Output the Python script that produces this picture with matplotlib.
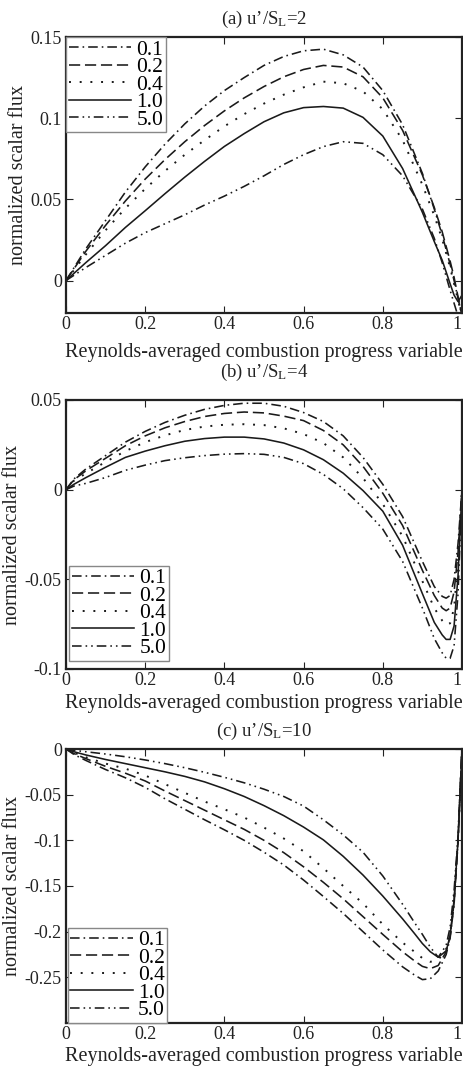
import matplotlib
matplotlib.use("Agg")
import matplotlib.pyplot as plt

plt.rcParams['font.family'] = ['Liberation Serif', 'DejaVu Serif']
plt.rcParams['mathtext.fontset'] = 'custom'
plt.rcParams['mathtext.rm'] = 'Liberation Serif'
plt.rcParams['mathtext.it'] = 'Liberation Serif:italic'

series_labels = ["0.1", "0.2", "0.4", "1.0", "5.0"]

# Panel (a) u'/SL = 2
xa = [0, 0.05, 0.1, 0.15, 0.2, 0.25, 0.3, 0.35, 0.4, 0.45, 0.5, 0.55, 0.6, 0.65,
      0.7, 0.75, 0.8, 0.85, 0.9, 0.93, 0.95, 0.97, 0.98, 0.99, 1.0]
a_01 = [0, 0.0195, 0.037, 0.0545, 0.07, 0.084, 0.0965, 0.1075, 0.117, 0.125, 0.1325,
        0.138, 0.1415, 0.1425, 0.139, 0.1315, 0.117, 0.096, 0.066, 0.044, 0.028,
        0.010, 0.0, -0.011, -0.022]
a_02 = [0, 0.018, 0.034, 0.049, 0.0625, 0.0745, 0.0855, 0.0955, 0.1045, 0.1125, 0.1195,
        0.1255, 0.130, 0.1325, 0.1315, 0.1255, 0.1125, 0.0925, 0.065, 0.045, 0.030,
        0.012, 0.002, -0.010, -0.022]
a_04 = [0, 0.016, 0.031, 0.0445, 0.0565, 0.0675, 0.0775, 0.0865, 0.095, 0.1025, 0.109,
        0.1145, 0.119, 0.1225, 0.1215, 0.1165, 0.1055, 0.0865, 0.059, 0.040, 0.0255,
        0.008, -0.002, -0.012, -0.022]
a_10 = [0, 0.011, 0.0215, 0.0327, 0.043, 0.0535, 0.0637, 0.0734, 0.0826, 0.0905, 0.0978,
        0.1033, 0.1065, 0.1072, 0.1062, 0.1005, 0.089, 0.069, 0.042, 0.024, 0.0125,
        -0.002, -0.009, -0.013, -0.009]
a_50 = [0, 0.008, 0.0155, 0.023, 0.0295, 0.035, 0.0405, 0.0465, 0.052, 0.058, 0.0645,
        0.0715, 0.0775, 0.0825, 0.0855, 0.0845, 0.0775, 0.0645, 0.044, 0.026, 0.011,
        -0.006, -0.014, -0.022, -0.030]

# Panel (b) u'/SL = 4
xb = [0, 0.02, 0.05, 0.1, 0.15, 0.2, 0.25, 0.3, 0.35, 0.4, 0.45, 0.5, 0.55, 0.6, 0.65,
      0.7, 0.75, 0.8, 0.85, 0.9, 0.93, 0.95, 0.96, 0.97, 0.98, 0.99, 1.0]
b_01 = [0, 0.006, 0.0115, 0.019, 0.0265, 0.0325, 0.0375, 0.0415, 0.0448, 0.047, 0.0482,
        0.0482, 0.0465, 0.043, 0.038, 0.030, 0.018, 0.003, -0.015, -0.040, -0.054,
        -0.0595, -0.0605, -0.059, -0.050, -0.030, 0.0]
b_02 = [0, 0.0055, 0.0105, 0.0175, 0.0245, 0.030, 0.0345, 0.038, 0.0408, 0.0425, 0.0433,
        0.0428, 0.041, 0.0385, 0.033, 0.025, 0.013, -0.002, -0.020, -0.045, -0.059,
        -0.066, -0.0675, -0.066, -0.057, -0.035, 0.0]
b_04 = [0, 0.005, 0.009, 0.0155, 0.0215, 0.0265, 0.0303, 0.0333, 0.0352, 0.0362, 0.0365,
        0.036, 0.0342, 0.031, 0.026, 0.018, 0.0065, -0.008, -0.026, -0.051, -0.066,
        -0.073, -0.0755, -0.0745, -0.066, -0.040, 0.0]
b_10 = [0, 0.003, 0.0067, 0.0125, 0.018, 0.0215, 0.0245, 0.027, 0.0285, 0.0293, 0.0293,
        0.0283, 0.026, 0.0222, 0.0167, 0.0092, -0.0005, -0.012, -0.031, -0.058, -0.074,
        -0.081, -0.0835, -0.0835, -0.076, -0.048, 0.0]
b_50 = [0, 0.002, 0.0035, 0.0068, 0.0108, 0.0137, 0.0162, 0.0178, 0.019, 0.0198, 0.0201,
        0.0197, 0.018, 0.0145, 0.0085, 0.0005, -0.010, -0.022, -0.040, -0.066, -0.083,
        -0.091, -0.094, -0.094, -0.087, -0.058, 0.0]

# Panel (c) u'/SL = 10
xc = [0, 0.02, 0.05, 0.1, 0.15, 0.2, 0.25, 0.3, 0.35, 0.4, 0.45, 0.5, 0.55, 0.6, 0.65,
      0.7, 0.75, 0.8, 0.85, 0.88, 0.9, 0.92, 0.94, 0.96, 0.97, 0.98, 0.99, 1.0]
c_01 = [0, -0.006, -0.0125, -0.0225, -0.0315, -0.042, -0.0545, -0.066, -0.0775, -0.0885,
        -0.100, -0.113, -0.127, -0.1435, -0.1615, -0.180, -0.200, -0.220, -0.2385,
        -0.2475, -0.2525, -0.2515, -0.243, -0.225, -0.207, -0.170, -0.100, 0.0]
c_02 = [0, -0.005, -0.0105, -0.019, -0.0265, -0.035, -0.046, -0.0565, -0.067, -0.0775,
        -0.088, -0.100, -0.1135, -0.129, -0.146, -0.164, -0.1835, -0.203, -0.222,
        -0.232, -0.238, -0.2405, -0.237, -0.222, -0.205, -0.168, -0.100, 0.0]
c_04 = [0, -0.004, -0.009, -0.016, -0.0215, -0.029, -0.0385, -0.048, -0.0575, -0.066,
        -0.075, -0.086, -0.098, -0.112, -0.1305, -0.150, -0.169, -0.192, -0.212,
        -0.222, -0.229, -0.233, -0.231, -0.219, -0.203, -0.165, -0.100, 0.0]
c_10 = [0, -0.003, -0.0065, -0.0115, -0.016, -0.0205, -0.025, -0.030, -0.036, -0.0435,
        -0.052, -0.062, -0.073, -0.0855, -0.0995, -0.1175, -0.138, -0.161, -0.186,
        -0.202, -0.213, -0.222, -0.228, -0.221, -0.205, -0.165, -0.100, 0.0]
c_50 = [0, -0.0015, -0.003, -0.0055, -0.0085, -0.012, -0.016, -0.0205, -0.0255, -0.031,
        -0.037, -0.044, -0.052, -0.0625, -0.0775, -0.094, -0.113, -0.139, -0.170,
        -0.190, -0.203, -0.217, -0.228, -0.215, -0.195, -0.155, -0.095, 0.0]

x_ticks = [0, 0.2, 0.4, 0.6, 0.8, 1.0]
x_ticklabels = ["0", "0.2", "0.4", "0.6", "0.8", "1"]
a_yticks = [0, 0.05, 0.1, 0.15]
a_yticklabels = ["0", "0.05", "0.1", "0.15"]
b_yticks = [-0.1, -0.05, 0, 0.05]
b_yticklabels = ["-0.1", "-0.05", "0", "0.05"]
c_yticks = [-0.25, -0.2, -0.15, -0.1, -0.05, 0]
c_yticklabels = ["-0.25", "-0.2", "-0.15", "-0.1", "-0.05", "0"]

titles = ["(a) u\u2019/S$_\\mathregular{L}$=2", "(b) u\u2019/S$_\\mathregular{L}$=4",
          "(c) u\u2019/S$_\\mathregular{L}$=10"]
xlabel = "Reynolds-averaged combustion progress variable"
ylabel = "normalized scalar flux"

styles = [
    (0, (6, 2.5, 1, 2.5)),
    (0, (7, 3)),
    (0, (1, 4.5)),
    "-",
    (0, (6, 2.5, 1, 2.5, 1, 2.5)),
]
line_color = "#1a1a1a"
text_color = "#222222"

W, H = 463, 1069
fig = plt.figure(figsize=(W / 100, H / 100), dpi=100)

L, R = 66, 462

panels = [
    dict(top=37, bottom=313, title_y=19, xlabel_y=352, x=xa,
         ys=[a_01, a_02, a_04, a_10, a_50],
         ylim=(-0.02, 0.15), yt=a_yticks, ytl=a_yticklabels, loc="upper left",
         anchor=(0.0, 1.0)),
    dict(top=400, bottom=669, title_y=372, xlabel_y=703, x=xb,
         ys=[b_01, b_02, b_04, b_10, b_50],
         ylim=(-0.1, 0.05), yt=b_yticks, ytl=b_yticklabels, loc="lower left",
         anchor=(0.008, 0.03)),
    dict(top=749, bottom=1023, title_y=731, xlabel_y=1056, x=xc,
         ys=[c_01, c_02, c_04, c_10, c_50],
         ylim=(-0.3, 0.0), yt=c_yticks, ytl=c_yticklabels, loc="lower left",
         anchor=(0.004, 0.0)),
]

for i, p in enumerate(panels):
    top, bottom = p["top"], p["bottom"]
    hpx = bottom - top
    ax = fig.add_axes([L / W, 1 - bottom / H, (R - L) / W, hpx / H])
    for y, ls, lab in zip(p["ys"], styles, series_labels):
        lw = 1.4 if ls == (0, (1, 4.5)) else 1.15
        ax.plot(p["x"], y, linestyle=ls, color=line_color, lw=lw, label=lab)
    ax.set_xlim(0, 1)
    ax.set_ylim(*p["ylim"])
    ax.set_xticks(x_ticks)
    ax.set_xticklabels(x_ticklabels)
    ax.get_xticklabels()[-1].set_horizontalalignment("right")
    ax.set_yticks(p["yt"])
    ax.set_yticklabels(p["ytl"])
    ax.tick_params(direction="in", top=True, right=True, length=5, width=0.8,
                   labelsize=13, pad=3, colors=text_color)
    ax.tick_params(axis="x", pad=2)
    for s in ax.spines.values():
        s.set_linewidth(1.6)
        s.set_color(text_color)
    fig.text((L + R) / 2 / W, 1 - p["title_y"] / H, titles[i], ha="center",
             va="center", fontsize=13.5, color=text_color)
    ax.set_xlabel(xlabel, fontsize=14.5, color=text_color)
    ax.xaxis.set_label_coords(0.5, (bottom - (p["xlabel_y"] - 9)) / hpx)
    ax.set_ylabel(ylabel, fontsize=14.5, labelpad=2, color=text_color)
    leg = ax.legend(loc=p["loc"], bbox_to_anchor=p["anchor"], fontsize=15.5,
                    handlelength=2.9, handletextpad=0.25, labelspacing=-0.12,
                    borderpad=0.12, borderaxespad=0.0, fancybox=False,
                    framealpha=1.0)
    leg.get_frame().set_edgecolor("#888888")
    leg.get_frame().set_linewidth(1.0)

fig.savefig("out.png", dpi=100)
